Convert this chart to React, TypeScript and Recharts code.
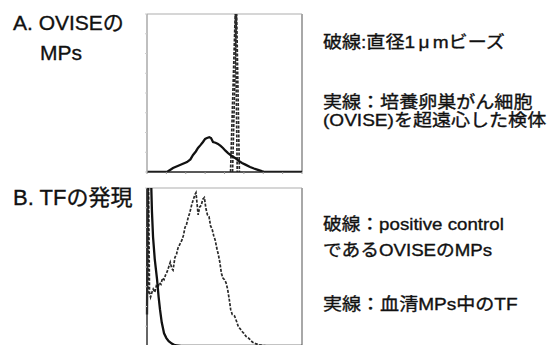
import React from "react";
import { LineChart, Line, XAxis, YAxis, ReferenceLine } from "recharts";

// channel (0-100) / relative count (0-1)
const xTicks = [0, 12.5, 25, 37.5, 50, 62.5, 75, 87.5, 100];
const yTicks = [0, 0.125, 0.25, 0.375, 0.5, 0.625, 0.75, 0.875, 1];

// A. solid: cultured ovarian cancer cells (OVISE) ultracentrifuged sample
const oviseSolid: [number, number][] = [
  [0, 0], [12.9, 0], [16.8, 0.025], [21.3, 0.044], [25.8, 0.063], [28, 0.08],
  [29.7, 0.108], [31.5, 0.13], [32.9, 0.152], [34.5, 0.17], [36.1, 0.19],
  [37.5, 0.21], [38.7, 0.215], [40.2, 0.22], [41.3, 0.215], [42.6, 0.19],
  [44.2, 0.185], [45.8, 0.178], [47.5, 0.165], [49, 0.152], [50.6, 0.135],
  [52.3, 0.12], [54.5, 0.103], [56.8, 0.089], [59, 0.072], [61.3, 0.057],
  [63.8, 0.045], [66.5, 0.032], [69, 0.022], [71.6, 0.013], [74, 0.005],
  [76, 0], [100, 0],
];

// A. dashed: 1 µm beads (double spike)
const beadsA: [number, number][] = [[53.9, 0], [57.0, 1.03], [58.2, 0]];
const beadsB: [number, number][] = [[55.2, 0], [57.8, 1.03], [59.6, 0]];

// B. dashed: positive control (OVISE MPs)
const positiveCtrl: [number, number][] = [
  [0.5, 0.33], [1.0, 1.05], [1.6, 0.34], [2.3, 0.31], [3.2, 0.34], [4.0, 0.36],
  [5.0, 0.34], [6.0, 0.38], [7.0, 0.37], [8.0, 0.4], [9.0, 0.39], [10, 0.43],
  [11, 0.42], [12, 0.45], [13, 0.47], [14, 0.5], [15, 0.53], [16, 0.49],
  [16.8, 0.48], [18, 0.56], [19, 0.58], [20, 0.62], [21, 0.64], [22.5, 0.67],
  [23.5, 0.7], [24.5, 0.75], [25.5, 0.77], [26.5, 0.81], [27.5, 0.84],
  [29, 0.9], [30, 0.93], [31, 0.96], [31.6, 0.97], [32.3, 0.9], [33, 0.83],
  [34, 0.88], [35, 0.89], [36, 0.93], [37, 0.94], [38, 0.87], [39, 0.83],
  [40, 0.82], [41, 0.76], [42, 0.74], [43, 0.7], [44, 0.67], [45, 0.62],
  [46, 0.58], [47, 0.53], [48, 0.46], [49, 0.43], [50, 0.42], [51, 0.4],
  [52, 0.36], [53, 0.3], [54, 0.23], [55, 0.2], [56.5, 0.19], [58, 0.15],
  [59, 0.12], [60, 0.11], [61.5, 0.09], [62.5, 0.08], [64, 0.06], [65, 0.055],
  [66.5, 0.04], [68, 0.025], [70, 0.015], [72, 0.008], [75, 0.003], [80, 0],
  [100, 0],
];

// B. solid: TF in serum MPs
const serumTF: [number, number][] = [
  [0, 0.2], [0.5, 1.1], [2.5, 1.1], [3.2, 0.85], [3.9, 0.69], [5, 0.55],
  [6.5, 0.42], [7.5, 0.31], [8.4, 0.23], [9.5, 0.15], [11, 0.08],
  [12.5, 0.05], [14, 0.03], [16, 0.015], [18, 0.005], [22, 0], [100, 0],
];

const toRows = (pts: [number, number][]) => pts.map(([x, y]) => ({ x, y }));

const font = '"Liberation Sans", "Noto Sans CJK JP", sans-serif';

function Panel({
  solid,
  dashed,
  leftAxis,
}: {
  solid: [number, number][];
  dashed: [number, number][][];
  leftAxis: string;
}) {
  return (
    <LineChart
      width={320}
      height={180}
      margin={{ top: 14, right: 18, left: 142, bottom: 3 }}
    >
      <XAxis
        type="number"
        dataKey="x"
        domain={[0, 100]}
        ticks={xTicks}
        tickFormatter={() => ""}
        tickSize={2}
        height={5}
        axisLine={{ stroke: "#222", strokeWidth: 1.5 }}
        tickLine={{ stroke: "#999" }}
      />
      <YAxis
        type="number"
        dataKey="y"
        domain={[0, 1]}
        ticks={yTicks}
        allowDataOverflow
        tickFormatter={() => ""}
        tickSize={2}
        width={5}
        axisLine={{ stroke: leftAxis, strokeWidth: 1.5 }}
        tickLine={{ stroke: "#ccc" }}
      />
      <ReferenceLine y={1} stroke="#c8c8c8" strokeWidth={1.5} />
      <ReferenceLine x={100} stroke="#a8a8a8" strokeWidth={2} />
      {dashed.map((d, i) => (
        <Line
          key={i}
          data={toRows(d)}
          dataKey="y"
          type="linear"
          stroke="#2a2a2a"
          strokeWidth={1.7}
          strokeDasharray="3 1.5"
          dot={false}
          isAnimationActive={false}
        />
      ))}
      <Line
        data={toRows(solid)}
        dataKey="y"
        type="linear"
        stroke="#111"
        strokeWidth={2.3}
        dot={false}
        isAnimationActive={false}
      />
    </LineChart>
  );
}

const txt = (
  left: number,
  top: number,
  size: number,
  lh: number = size,
  sx: number = 1
): React.CSSProperties => ({
  position: "absolute",
  left,
  top,
  fontSize: size,
  lineHeight: `${lh}px`,
  fontFamily: font,
  color: "#111",
  whiteSpace: "nowrap",
  WebkitTextStroke: "0.35px #111",
  transform: sx !== 1 ? `scaleX(${sx})` : undefined,
  transformOrigin: "left center",
});

export default function App() {
  return (
    <div
      style={{
        position: "fixed",
        left: 0,
        top: 0,
        width: 556,
        height: 345,
        overflow: "hidden",
        background: "#fff",
      }}
    >
      <div style={{ position: "absolute", left: 0, top: 0 }}>
        <Panel solid={oviseSolid} dashed={[beadsA, beadsB]} leftAxis="#aaa" />
      </div>
      <div style={{ position: "absolute", left: 0, top: 174 }}>
        <Panel solid={serumTF} dashed={[positiveCtrl]} leftAxis="#333" />
      </div>

      <div style={txt(13, 12, 21)}>A. OVISEの</div>
      <div style={txt(40, 42, 21)}>MPs</div>
      <div style={txt(13, 187, 22)}>B. TFの発現</div>

      <div style={txt(323, 34, 17, 18, 1.12)}>
        破線:直径1<span style={{ margin: "0 3px" }}>μ</span>mビーズ
      </div>
      <div style={txt(323, 94, 17, 18, 1.12)}>実線：培養卵巣がん細胞</div>
      <div style={txt(323, 112, 17, 18, 1.12)}>(OVISE)を超遠心した検体</div>

      <div style={txt(323, 216, 17, 18, 1.1)}>破線：positive control</div>
      <div style={txt(323, 242, 17, 18, 1.1)}>であるOVISEのMPs</div>
      <div style={txt(323, 296, 17, 18, 1.12)}>実線：血清MPs中のTF</div>
    </div>
  );
}
